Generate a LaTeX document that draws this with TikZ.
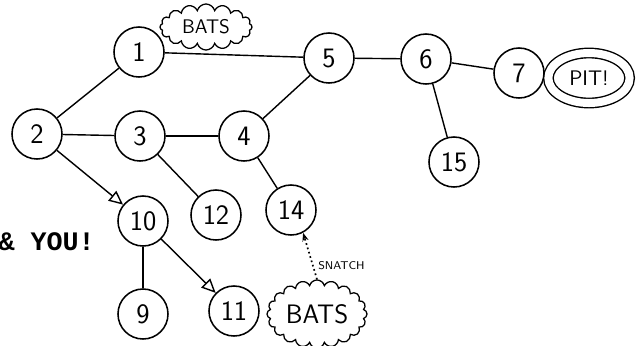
\documentclass[tikz,border=0pt]{standalone}
\usepackage{fontspec}
\newfontfamily\typefont{Liberation Mono}
\usetikzlibrary{shapes.geometric,shapes.symbols,arrows.meta}

\begin{document}
\begin{tikzpicture}[
    x=0.025cm, y=-0.025cm,
    room/.style={circle, draw, line width=1.1pt, minimum size=1.25cm, inner sep=0pt,
                 font=\sffamily\fontsize{20}{20}\selectfont},
    hazard/.style={cloud, draw, line width=0.9pt, cloud puffs=14, inner sep=0pt},
    tunnel/.style={line width=1pt},
    crawl/.style={tunnel, -{Triangle[open, length=10pt, width=9pt]}},
    >=Stealth,
]
    \useasboundingbox (0,0) rectangle (641,345);
    \clip (0,0) rectangle (641,345);

    % Rooms of the cave
    \node[room] (r1)  at (139, 52) {1};
    \node[room] (r2)  at ( 37,134) {2};
    \node[room] (r3)  at (140,136) {3};
    \node[room] (r4)  at (244,136) {4};
    \node[room] (r5)  at (329, 58) {5};
    \node[room] (r6)  at (426, 59) {6};
    \node[room] (r7)  at (519, 73) {7};
    \node[room] (r9)  at (143,314) {9};
    \node[room] (r10) at (143,221) {10};
    \node[room] (r11) at (234,311) {11};
    \node[room] (r12) at (216,215) {12};
    \node[room] (r14) at (291,210) {14};
    \node[room] (r15) at (454,162) {15};

    % Plain tunnels
    \foreach \a/\b in {r2/r1, r1/r5, r2/r3, r3/r4, r4/r5, r5/r6, r6/r7, r6/r15, r3/r12, r4/r14, r10/r9} {
        \draw[tunnel] (\a) -- (\b);
    }
    % One-way passages
    \draw[crawl] (r2) -- (r10);
    \draw[crawl] (r10) -- (r11);

    % Hazards
    \node[hazard, cloud puffs=16, aspect=2.3, minimum width=2.3cm, minimum height=1.15cm,
          font=\sffamily\fontsize{14}{14}\selectfont] (batsA) at (206,27) {BATS};
    \node[hazard, cloud puffs=20, cloud puff arc=150, aspect=1.7, minimum width=2.5cm, minimum height=1.7cm,
          font=\sffamily\fontsize{19}{19}\selectfont] (batsB) at (317,314) {BATS};
    \node[ellipse, draw, line width=1pt, double, double distance=0.2cm,
          minimum width=2.03cm, minimum height=1.25cm,
          font=\sffamily\fontsize{15}{15}\selectfont] (pit) at (589,78) {PIT!};

    % Bats carry you off
    \draw[dotted, line width=1.2pt, -{Stealth[length=6pt]}] (batsB.north) --
        node[pos=0.3, anchor=west, font=\sffamily\fontsize{8}{8}\selectfont] {SNATCH} (r14.-62);

    % Caption, cut at the left edge
    \node[font=\typefont\bfseries\fontsize{19}{19}\selectfont, anchor=base east, inner sep=0pt]
        (you) at (95,250) {\& YOU!};
\end{tikzpicture}
\end{document}
